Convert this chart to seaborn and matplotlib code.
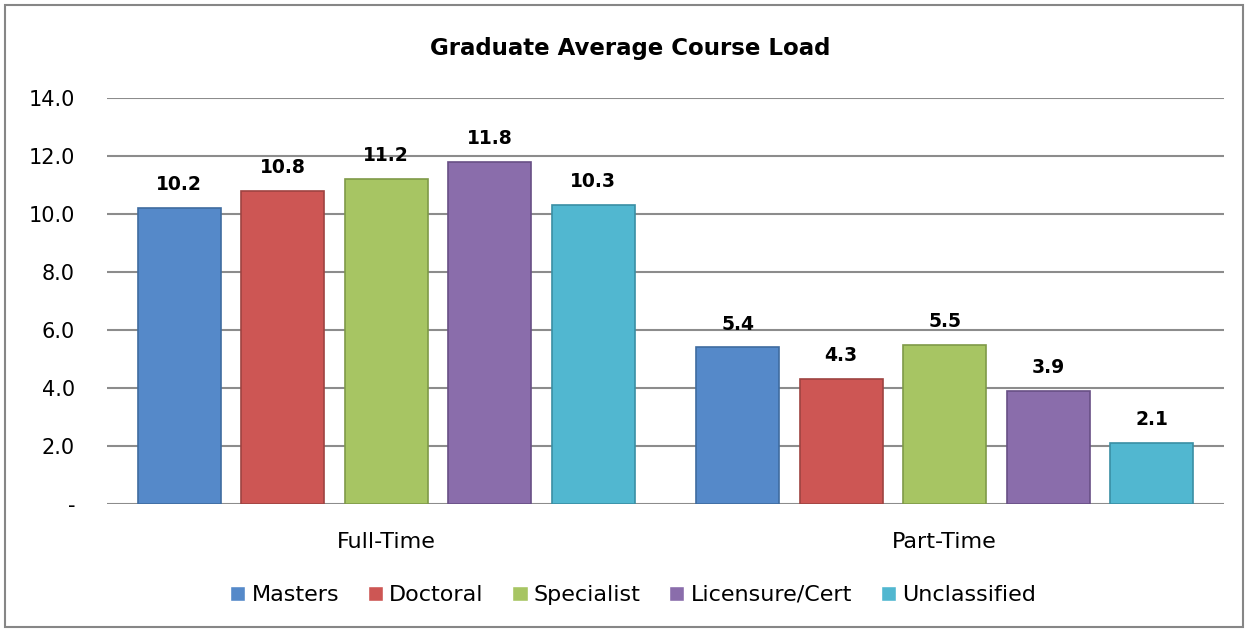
import pandas as pd
import seaborn as sns
import matplotlib.pyplot as plt
from matplotlib.patches import Rectangle

# chart data
statuses = ['Full-Time', 'Part-Time']
programs = ['Masters', 'Doctoral', 'Specialist', 'Licensure/Cert', 'Unclassified']
full_time = [10.2, 10.8, 11.2, 11.8, 10.3]
part_time = [5.4, 4.3, 5.5, 3.9, 2.1]
y_ticks = [0, 2, 4, 6, 8, 10, 12, 14]
y_tick_labels = ['-', '2.0', '4.0', '6.0', '8.0', '10.0', '12.0', '14.0']
colors = ['#5589C9', '#CD5654', '#A7C563', '#8A6DAB', '#51B7D0']
edges = ['#3F6C9F', '#9E4341', '#7F9A48', '#684F85', '#3A8FA4']

# long table for seaborn
rows = []
for status, vals in zip(statuses, [full_time, part_time]):
    for prog, v in zip(programs, vals):
        rows = rows + [{'status': status, 'program': prog, 'load': v}]
df = pd.DataFrame(rows)

sns.set_theme(style='white')
plt.rcParams['font.family'] = ['DejaVu Sans']
plt.rcParams['text.color'] = 'black'

fig = plt.figure(figsize=(12.48, 6.32), dpi=100)
ax = fig.add_axes([107 / 1248, 1 - 504 / 632, (1224 - 107) / 1248, (504 - 98) / 632])

sns.barplot(data=df, x='status', y='load', hue='program', hue_order=programs,
            palette=colors, width=0.927, gap=0.2, saturation=1, ax=ax, zorder=3)

# darker edge per series, and bold value labels on top
for cont, ec in zip(ax.containers, edges):
    for bar in cont:
        bar.set_edgecolor(ec)
        bar.set_linewidth(1.2)
    ax.bar_label(cont, fmt='%.1f', padding=10, fontsize=13.5, fontweight='bold', color='black')

ax.set_ylim(0, 14)
ax.set_yticks(y_ticks)
ax.set_yticklabels(y_tick_labels)
ax.yaxis.grid(True, color='#8C8C8C', linewidth=1.5, zorder=0)
ax.set_axisbelow(True)
for sp in ax.spines.values():
    sp.set_visible(False)
ax.tick_params(axis='y', length=0, pad=23, labelsize=15, labelcolor='black')
ax.tick_params(axis='x', length=0, pad=20, labelsize=16, labelcolor='black')
ax.set_xlabel('')
ax.set_ylabel('')

fig.suptitle('Graduate Average Course Load', x=630 / 1248, y=1 - 48 / 632, va='center',
             fontsize=16.5, fontweight='bold', color='black')

# legend along the bottom
handles, labels = ax.get_legend_handles_labels()
ax.get_legend().remove()
fig.legend(handles, labels, loc='center', bbox_to_anchor=(633 / 1248, 1 - 595 / 632),
           ncol=5, frameon=False, fontsize=16, handlelength=0.68, handleheight=0.68,
           handletextpad=0.27, columnspacing=1.3, labelcolor='black')

# chart border
fig.patches.append(Rectangle((5 / 1248, 5 / 632), 1 - 10 / 1248, 1 - 10 / 632,
                             transform=fig.transFigure, fill=False,
                             edgecolor='#868686', linewidth=1.5))

fig.savefig('out.png', dpi=100)
